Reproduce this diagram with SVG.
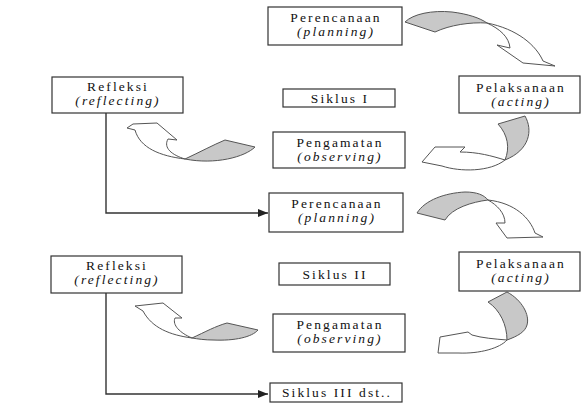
<svg xmlns="http://www.w3.org/2000/svg" width="582" height="403" viewBox="0 0 582 403">
<defs>
<style>
.box{fill:#fff;stroke:#333;stroke-width:1.2}
text{font-family:'Liberation Serif','DejaVu Serif',serif;font-size:13.5px;letter-spacing:2.1px;fill:#111;text-anchor:middle}
.i{font-style:italic}
.ln{fill:none;stroke:#333;stroke-width:1.4}
.g{fill:#c8c8c8;stroke:#555;stroke-width:1}
.w{fill:#fff;stroke:#555;stroke-width:1}
</style>
<marker id="ah" markerWidth="10" markerHeight="8" refX="10" refY="4" orient="auto" markerUnits="userSpaceOnUse">
<path d="M0,0 L10,4 L0,8 Z" fill="#222"/>
</marker>
</defs>
<rect width="582" height="403" fill="#fff"/>
<g id="connectors">
<path class="ln" d="M106,113 V213 H268" marker-end="url(#ah)"/>
<path class="ln" d="M106,293 V394 H268" marker-end="url(#ah)"/>
<path class="g" d="M405,22 C413,14 432,10 452,12 C468,14 480,18 487,23 C470,22 450,25 435,32 Z"/>
<path class="w" d="M487,23 C500,29 509,37 510,48 L497,45 L523,63 L555,66 L543,61 C536,45 517,29 487,23 Z"/>
<path class="g" d="M498,124 L525,116 C533,130 530,150 505,160 C510,148 508,135 498,124 Z"/>
<path class="w" d="M505,160 C492,156 478,152 460,152 L465,147 L435,147 L422,162 L442,166 C460,172 490,172 505,160 Z"/>
<path class="g" d="M225,140 L255,147 C245,157 215,165 185,159 C200,152 213,145 225,140 Z"/>
<path class="w" d="M185,159 C160,156 140,148 135,130 L127,128 L133,124 L157,123 L177,140 L168,139 C163,148 172,155 185,159 Z"/>
<path class="g" d="M417,213 C425,200 445,193 465,192 C477,192 484,195 488,200 C472,202 452,208 445,220 Z"/>
<path class="w" d="M488,200 C497,205 505,213 505,223 L496,223 L507,238 L543,237 L535,233 C530,218 515,203 488,200 Z"/>
<path class="g" d="M488,302 L507,292 C522,300 530,315 527,325 C525,332 518,336 507,340 C507,325 500,310 488,302 Z"/>
<path class="w" d="M507,340 C500,348 480,354 458,353 L438,353 L440,337 L468,332 L472,335 C482,338 495,339 507,340 Z"/>
<path class="g" d="M227,323 L258,330 C252,337 235,341 213,340 C205,340 198,339 192,338 C205,332 216,326 227,323 Z"/>
<path class="w" d="M192,338 C170,335 152,328 143,311 L135,306 L163,303 L182,318 L175,318 C172,325 180,333 192,338 Z"/>
</g>
<g id="perencanaan1"><rect class="box" x="268" y="7" width="134" height="38"/><text x="336" y="22">Perencanaan</text><text class="i" x="336" y="36">(planning)</text></g>
<g id="siklus1"><rect class="box" x="283" y="89" width="112" height="18"/><text x="340" y="103">Siklus I</text></g>
<g id="pelaksanaan1"><rect class="box" x="459" y="76" width="121" height="37"/><text x="521" y="92">Pelaksanaan</text><text class="i" x="521" y="106">(acting)</text></g>
<g id="pengamatan1"><rect class="box" x="273" y="132" width="132" height="36"/><text x="340" y="147">Pengamatan</text><text class="i" x="340" y="161">(observing)</text></g>
<g id="refleksi1"><rect class="box" x="52" y="77" width="131" height="36"/><text x="118" y="91">Refleksi</text><text class="i" x="118" y="105">(reflecting)</text></g>
<g id="perencanaan2"><rect class="box" x="269" y="193" width="134" height="39"/><text x="337" y="208">Perencanaan</text><text class="i" x="337" y="222">(planning)</text></g>
<g id="siklus2"><rect class="box" x="279" y="263" width="111" height="22"/><text x="335" y="279">Siklus II</text></g>
<g id="pelaksanaan2"><rect class="box" x="459" y="252" width="121" height="39"/><text x="521" y="268">Pelaksanaan</text><text class="i" x="521" y="282">(acting)</text></g>
<g id="pengamatan2"><rect class="box" x="273" y="314" width="132" height="38"/><text x="340" y="329">Pengamatan</text><text class="i" x="340" y="343">(observing)</text></g>
<g id="refleksi2"><rect class="box" x="51" y="256" width="131" height="37"/><text x="117" y="270">Refleksi</text><text class="i" x="117" y="284">(reflecting)</text></g>
<g id="siklus3"><rect class="box" x="270" y="383" width="132" height="19"/><text x="337" y="397">Siklus III dst..</text></g>
</svg>
